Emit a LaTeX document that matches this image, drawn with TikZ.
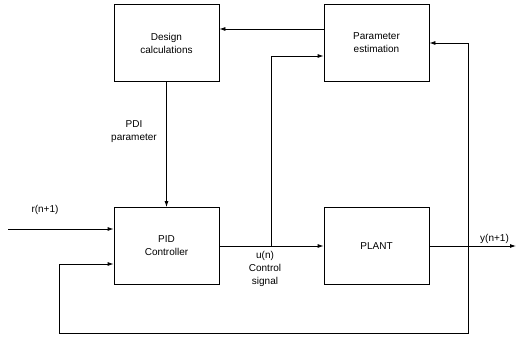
\documentclass[tikz,border=0pt]{standalone}
\usepackage{fontspec}
\setmainfont{Liberation Sans}
\usetikzlibrary{arrows.meta,positioning,calc}

\begin{document}
\begin{tikzpicture}[x=1pt,y=1pt,
  >={Latex[length=6pt,width=4pt]},
  blk/.style={draw, thick, minimum width=105pt, minimum height=77pt, inner sep=0pt, align=center, font=\fontsize{10}{13}\selectfont},
  ln/.style={thick},
  lab/.style={font=\fontsize{10}{13}\selectfont, align=center, inner sep=0pt},
]
\useasboundingbox (0,0) rectangle (518,338);
\node[blk] (dc) at (166.5,295) {Design\\calculations};
\node[blk] (pe) at (376.5,295) {Parameter\\estimation};
\node[blk] (pid) at (166.5,92) {PID\\Controller};
\node[blk] (pl) at (376.5,92) {PLANT};
\coordinate (rin) at (8,109);
\coordinate (yout) at (516,92);
\coordinate (uj) at (271,92);
\coordinate (yj) at (468,92);
\draw[ln,->] ($(pe.west)+(0,14)$) -- ($(dc.east)+(0,14)$);
\draw[ln,->] (dc.south) -- (pid.north);
\draw[ln,->] (rin) -- (rin -| pid.west);
\draw[ln,->] (pid.east) -- (pl.west);
\draw[ln,->] (pl.east) -- (yout);
\draw[ln,->] (uj) |- ($(pe.west)+(0,-13)$);
\draw[ln,->] (yj) |- (pe.east);
\draw[ln,->] (yj) |- (59,5) |- ($(pid.west)+(0,-18)$);
\node[lab] (pdi) at (134,206) {PDI\\parameter};
\node[lab] (rlab) at (45,128) {r(n+1)};
\node[lab, anchor=south west] (ylab) at (480,94) {y(n+1)};
\node[lab] (ulab) at (265,69) {u(n)\\Control\\signal};
\end{tikzpicture}
\end{document}
